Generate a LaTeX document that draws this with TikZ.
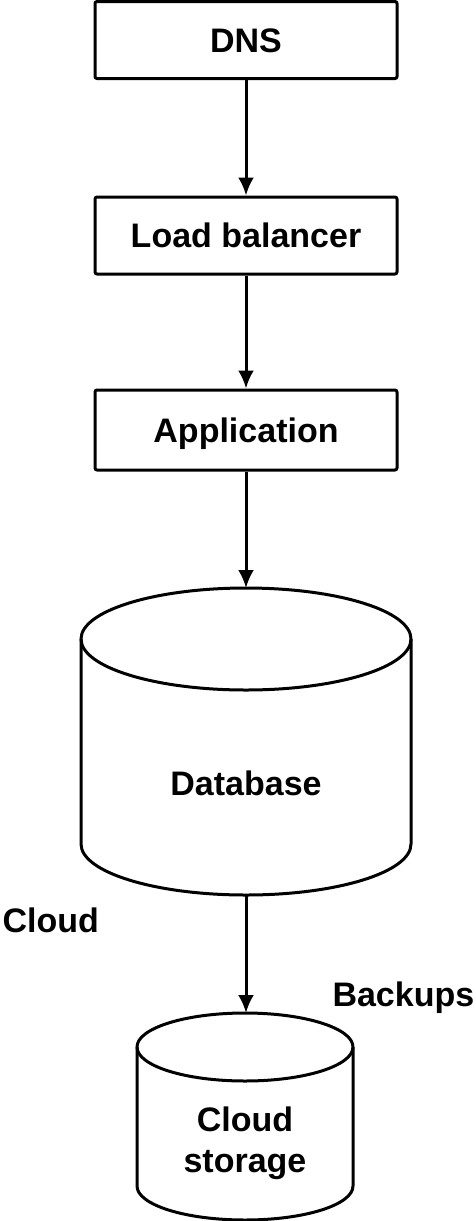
\documentclass[tikz,border=0pt]{standalone}
\usepackage{fontspec}
\setmainfont{Liberation Sans}
\usetikzlibrary{arrows.meta}

\begin{document}
\begin{tikzpicture}[x=1pt, y=1pt, line width=3pt, line join=round,
    every node/.style={font=\fontsize{34}{41}\selectfont\bfseries, inner sep=0pt},
    tier/.style={draw, rounded corners=2pt, minimum width=302pt, minimum height=77pt, text height=24.4pt, text depth=0pt},
    link/.style={-{Latex[length=18pt, width=16pt]}}]
  \useasboundingbox (0,0) rectangle (475,-1221);
  % DNS, load balancer and application boxes
  \node[tier] (dns) at (246,-40) {DNS};
  \node[tier] (lb) at (246,-235.5) {Load balancer};
  \node[tier, minimum height=80pt] (app) at (246,-430) {Application};
  \draw[link] (dns) -- (lb);
  \draw[link] (lb) -- (app);
  % Database cylinder
  \coordinate (dbtop) at (246,-588);
  \coordinate (dbbase) at (246,-895);
  \draw (246,-639) ellipse [x radius=165, y radius=51];
  \draw (81,-639) -- (81,-844) arc[start angle=180, end angle=360, x radius=165, y radius=51] -- (411,-639);
  \node[anchor=base] (db) at (246,-795) {Database};
  \draw[link] (app) -- (dbtop);
  % labels
  \node[anchor=base west] (cloud) at (1,-932) {Cloud};
  \node[anchor=base west] (backups) at (331,-1006) {Backups};
  % Cloud storage cylinder
  \coordinate (sttop) at (246,-1013);
  \draw (245,-1047) ellipse [x radius=108, y radius=34];
  \draw (137,-1047) -- (137,-1186) arc[start angle=180, end angle=360, x radius=108, y radius=34] -- (353,-1047);
  \node[align=center] (storage) at (245,-1143.6) {Cloud\\storage};
  \draw[link] (dbbase) -- (sttop);
\end{tikzpicture}
\end{document}
